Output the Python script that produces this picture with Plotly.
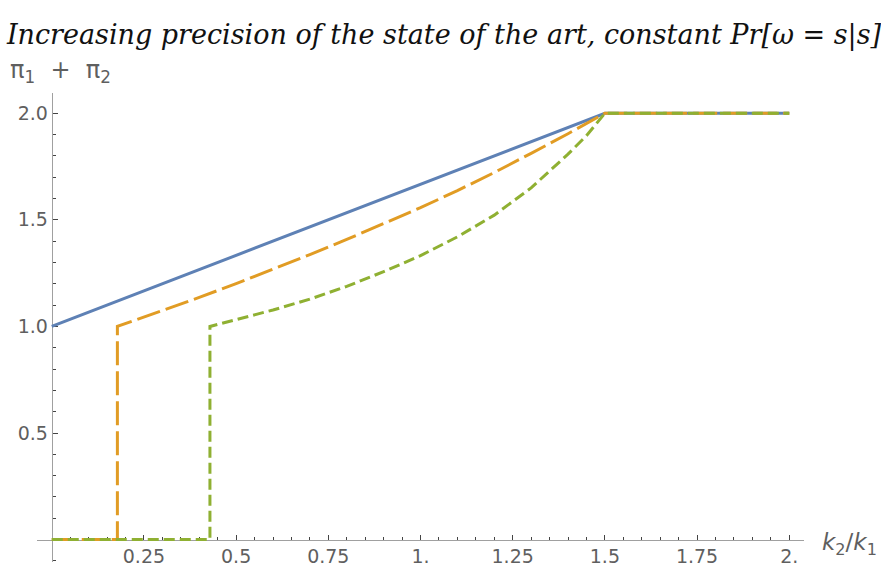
import numpy as np
import plotly.graph_objects as go

# ---- data ----
blue_x = [0.0, 1.5, 2.0]
blue_y = [1.0, 2.0, 2.0]

orange_x = [0.0, 0.178, 0.178, 0.3, 0.4, 0.5, 0.6, 0.7, 0.8, 0.9, 1.0, 1.1, 1.2, 1.3, 1.4, 1.5, 2.0]
orange_y = [0.0, 0.0, 1.0, 1.074, 1.136, 1.201, 1.268, 1.337, 1.408, 1.481, 1.557, 1.637, 1.722, 1.812, 1.904, 2.0, 2.0]

green_x = [0.0, 0.429, 0.429, 0.5, 0.6, 0.7, 0.8, 0.9, 1.0, 1.1, 1.2, 1.3, 1.4, 1.45, 1.5, 2.0]
green_y = [0.0, 0.0, 1.0, 1.032, 1.077, 1.128, 1.188, 1.257, 1.332, 1.420, 1.522, 1.650, 1.808, 1.895, 2.0, 2.0]

x_tickvals = [0.25, 0.5, 0.75, 1.0, 1.25, 1.5, 1.75, 2.0]
x_ticktext = ["0.25", "0.5", "0.75", "1.", "1.25", "1.5", "1.75", "2."]
y_tickvals = [0.5, 1.0, 1.5, 2.0]
y_ticktext = ["0.5", "1.0", "1.5", "2.0"]

title_text = "Increasing precision of the state of the art, constant Pr[ω = s|s]"
y_label = "π<sub>1</sub>&nbsp;&nbsp;+&nbsp;&nbsp;π<sub>2</sub>"
x_label = "<i>k</i><sub>2</sub>/<i>k</i><sub>1</sub>"

BLUE = "#5E81B5"
ORANGE = "#E19C24"
GREEN = "#8FB032"
TXT = "#5f5f5f"
AX = "#a0a0a0"
SANS = "DejaVu Sans"

fig = go.Figure()
fig.add_trace(go.Scatter(x=blue_x, y=blue_y, mode="lines",
                         line=dict(color=BLUE, width=3)))
fig.add_trace(go.Scatter(x=orange_x, y=orange_y, mode="lines",
                         line=dict(color=ORANGE, width=3, dash="24px,6px")))
fig.add_trace(go.Scatter(x=green_x, y=green_y, mode="lines",
                         line=dict(color=GREEN, width=3, dash="11px,5px")))

xr = [-0.04, 2.04]
yr = [-0.105, 2.095]
L, R, T, B = 37.3, 77.2, 92.7, 8.6
W = 881 - L - R
H = 571 - T - B

fig.update_layout(
    width=881, height=571,
    margin=dict(l=L, r=R, t=T, b=B, pad=0, autoexpand=False),
    paper_bgcolor="white", plot_bgcolor="white",
    showlegend=False,
    title=dict(text=title_text, x=444 / 881, xref="container", xanchor="center",
               y=1 - 35 / 571, yref="container", yanchor="middle",
               font=dict(family="DejaVu Serif", size=27, color="#111111", style="italic")),
    font=dict(family=SANS, color=TXT),
)

fig.update_xaxes(
    range=xr, anchor="free", position=(0 - yr[0]) / (yr[1] - yr[0]), automargin=False,
    showgrid=False, zeroline=False, showline=True, linecolor=AX, linewidth=1,
    tickmode="array", tickvals=x_tickvals, ticktext=x_ticktext,
    ticks="inside", ticklen=5, tickwidth=1, tickcolor="#444444",
    tickfont=dict(family=SANS, size=19, color=TXT),
    minor=dict(tickmode="array", tickvals=list(np.round(np.arange(0.05, 2.04, 0.05), 3)),
               ticks="inside", ticklen=3, tickwidth=1, tickcolor="#444444"),
    layer="below traces",
)
fig.update_yaxes(
    range=yr, anchor="free", position=(0 - xr[0]) / (xr[1] - xr[0]), automargin=False,
    showgrid=False, zeroline=False, showline=True, linecolor=AX, linewidth=1,
    tickmode="array", tickvals=y_tickvals, ticktext=y_ticktext,
    ticks="inside", ticklen=5, tickwidth=1, tickcolor="#444444",
    tickfont=dict(family=SANS, size=19, color=TXT),
    minor=dict(tickmode="array", tickvals=list(np.round(np.arange(-0.1, 2.095, 0.1), 3)),
               ticks="inside", ticklen=3, tickwidth=1, tickcolor="#444444"),
    layer="below traces",
)

fig.add_annotation(text=y_label, xref="paper", yref="paper",
                   x=(8 - L) / W, y=(571 - B - 71) / H, xanchor="left", yanchor="middle",
                   showarrow=False, font=dict(family=SANS, size=24, color=TXT))
fig.add_annotation(text=x_label, xref="paper", yref="paper",
                   x=(820 - L) / W, y=(571 - B - 544) / H, xanchor="left", yanchor="middle",
                   showarrow=False, font=dict(family=SANS, size=23, color=TXT))

fig.write_html("out.html", config={"displayModeBar": False},
               post_script="document.body.style.margin='0';document.body.style.overflow='hidden';")
